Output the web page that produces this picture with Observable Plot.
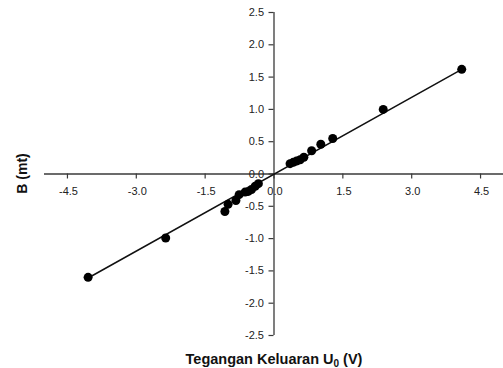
<!DOCTYPE html>
<html>
<head>
<meta charset="utf-8">
<script src="https://cdn.jsdelivr.net/npm/d3@7"></script>
<script src="https://cdn.jsdelivr.net/npm/@observablehq/plot@0.6"></script>
<style>
  html, body { margin: 0; padding: 0; background: #fff; }
  svg { display: block; }
</style>
</head>
<body>
<div id="chart"></div>
<script>
// Tick labels
const xTicks = [-4.5, -3.0, -1.5, 0.0, 1.5, 3.0, 4.5];
const yTicks = [-2.5, -2.0, -1.5, -1.0, -0.5, 0.0, 0.5, 1.0, 1.5, 2.0, 2.5];

// Measured points: output voltage U0 (V) vs B (mt)
const uValues = [-4.05, -2.36, -1.07, -1.00, -0.83, -0.76, -0.63, -0.56, -0.49, -0.41, -0.34,
                 0.35, 0.42, 0.49, 0.57, 0.65, 0.82, 1.02, 1.28, 2.38, 4.09];
const bValues = [-1.60, -0.99, -0.58, -0.47, -0.41, -0.32, -0.28, -0.27, -0.24, -0.19, -0.15,
                 0.16, 0.18, 0.20, 0.22, 0.26, 0.36, 0.46, 0.55, 1.00, 1.62];

// Fit line endpoints
const fitU = [-4.05, 4.09];
const fitB = [-1.61, 1.62];

const points = uValues.map((u, i) => ({u, b: bValues[i]}));
const fit = fitU.map((u, i) => ({u, b: fitB[i]}));

const axisColor = "#3a3a3a";
const font = "Liberation Sans, Arial, sans-serif";

const plot = Plot.plot({
  width: 503,
  height: 368,
  marginLeft: 44,
  marginRight: 0,
  marginTop: 12,
  marginBottom: 33,
  style: {fontFamily: font, background: "#fff"},
  x: {domain: [-5, 5], axis: null},
  y: {domain: [-2.5, 2.5], axis: null},
  marks: [
    Plot.ruleY([0], {stroke: axisColor, strokeWidth: 1.3}),
    Plot.ruleX([0], {y1: -2.5, y2: 2.5, stroke: axisColor, strokeWidth: 1.3}),
    Plot.ruleX(xTicks, {x: d => d, y1: 0, y2: 0, insetTop: 0, insetBottom: -5, stroke: axisColor, strokeWidth: 1.2}),
    Plot.ruleY(yTicks, {y: d => d, x1: 0, x2: 0, insetLeft: -5, insetRight: 0, stroke: axisColor, strokeWidth: 1.2}),
    Plot.text(xTicks, {x: d => d, y: 0, text: d => d.toFixed(1), dy: 17, dx: 1, fontSize: 11, fill: "#222"}),
    Plot.text(yTicks, {x: 0, y: d => d, text: d => d.toFixed(1), textAnchor: "end", dx: -10, fontSize: 11, fill: "#222"}),
    Plot.line(fit, {x: "u", y: "b", stroke: "#111", strokeWidth: 1.5}),
    Plot.dot(points, {x: "u", y: "b", r: 4.5, fill: "#000", stroke: "none"})
  ]
});

const svg = d3.select(plot);
// y title
svg.append("text")
  .attr("transform", "translate(22,173.5) rotate(-90)")
  .attr("text-anchor", "middle")
  .attr("dy", "0.35em")
  .attr("font-family", font)
  .attr("font-size", 14)
  .attr("font-weight", "bold")
  .attr("fill", "#111")
  .text("B (mt)");

// x title with subscript
const t = svg.append("text")
  .attr("x", 274)
  .attr("y", 364)
  .attr("text-anchor", "middle")
  .attr("font-family", font)
  .attr("font-size", 14.5)
  .attr("font-weight", "bold")
  .attr("fill", "#111");
t.append("tspan").text("Tegangan Keluaran U");
t.append("tspan").attr("font-size", 10).attr("dy", 3).text("0");
t.append("tspan").attr("dy", -3).text(" (V)");

document.getElementById("chart").appendChild(plot);
</script>
</body>
</html>
